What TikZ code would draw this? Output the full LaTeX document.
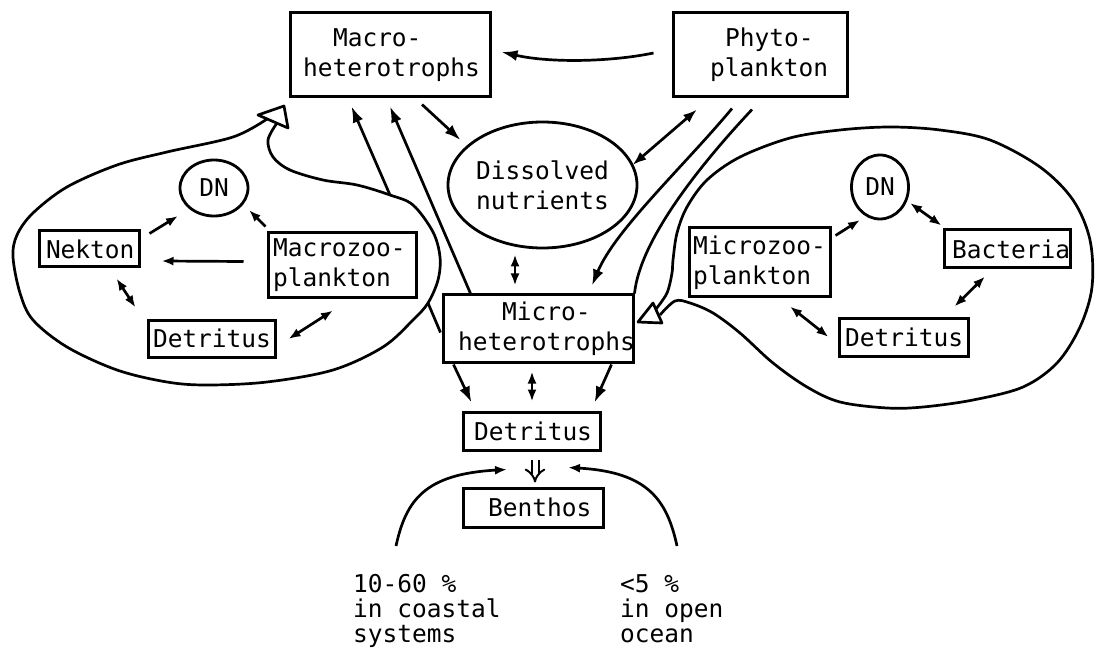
\documentclass[tikz,border=0pt]{standalone}
\usepackage{fontspec}
\setmonofont{DejaVu Sans Mono}
\usetikzlibrary{arrows.meta,calc,shapes.geometric}
\begin{document}
\begin{tikzpicture}[x=1pt,y=-1pt,
  lbl/.style={font={\ttfamily\fontsize{24.5}{30}\selectfont\hyphenpenalty10000\exhyphenpenalty10000}},
  lblb/.style={font={\ttfamily\fontsize{24.5}{25}\selectfont}},
  box/.style={draw, line width=3pt, rectangle, inner xsep=4pt, inner ysep=0pt, align=left, lbl},
  oval/.style={draw, line width=2.8pt, ellipse, inner sep=0pt, align=center, lbl},
  con/.style={line width=2.7pt},
  arr/.style={con, -{Latex[length=16pt,width=11pt]}},
  sarr/.style={con, -{Latex[length=12pt,width=9pt]}},
  darr/.style={con, {Latex[length=14pt,width=10pt]}-{Latex[length=14pt,width=10pt]}},
  dsarr/.style={con, {Latex[length=12pt,width=9pt]}-{Latex[length=12pt,width=9pt]}},
  loopline/.style={line width=2.7pt, line join=round},
  dblarr/.style={double, double distance=5pt, line width=2pt, -{Implies[length=10pt]}},
]
\fill[white] (0,0) rectangle (1100,660);
\useasboundingbox (0,0) rectangle (1100,660);

% main boxes
\node[box, minimum width=200pt, minimum height=84pt, text width=192pt] (macro) at (390,55) {\hspace*{39pt}Macro-\\\hspace*{9pt}heterotrophs};
\node[box, minimum width=174pt, minimum height=84pt, text width=166pt] (phyto) at (760,55) {\hspace*{48pt}Phyto-\\\hspace*{33pt}plankton};
\node[oval, minimum width=189pt, minimum height=126pt] (dissolved) at (542.5,185) {Dissolved\\nutrients};
\node[box, minimum width=190pt, minimum height=67pt, text width=182pt] (micro) at (538,328.5) {\hspace*{55pt}Micro-\\\hspace*{11pt}heterotrophs};
\node[box, minimum width=137pt, minimum height=38pt, text width=129pt] (detC) at (531.5,431) {\hspace*{7pt}Detritus};
\node[box, minimum width=140pt, minimum height=39pt, text width=132pt] (benthos) at (533,507.5) {\hspace*{21pt}Benthos};

% left loop nodes
\node[oval, minimum width=68pt, minimum height=56pt] (dnL) at (214,188) {DN};
\node[box, minimum width=100pt, minimum height=36pt, text width=92pt] (nekton) at (89,249) {\hspace*{3pt}Nekton};
\node[box, minimum width=148pt, minimum height=65pt, text width=140pt] (macrozoo) at (342,265.5) {\hspace*{1pt}Macrozoo-\\\hspace*{1pt}plankton};
\node[box, minimum width=127pt, minimum height=37pt, text width=119pt] (detL) at (211.5,338.5) {\hspace*{1pt}Detritus};

% right loop nodes
\node[oval, minimum width=57pt, minimum height=64pt] (dnR) at (880,187) {DN};
\node[box, minimum width=141pt, minimum height=69pt, text width=133pt] (microzoo) at (759.5,262.5) {Microzoo-\\plankton};
\node[box, minimum width=126pt, minimum height=38pt, text width=118pt] (bacteria) at (1007,249) {\hspace*{4pt}Bacteria};
\node[box, minimum width=129pt, minimum height=38pt, text width=121pt] (detR) at (903.5,337) {\hspace*{2pt}Detritus};

% bottom texts
\node[lblb, anchor=north west, align=left, inner sep=0pt] (coastal) at (353,574) {10-60 \%\\in coastal\\systems};
\node[lblb, anchor=north west, align=left, inner sep=0pt] (ocean) at (620,574) {<5 \%\\in open\\ocean};

% loop outlines
\coordinate (loopLa) at (390,195);
\coordinate (loopLb) at (428,303);
\draw[loopline] plot[smooth, tension=0.55] coordinates {(277,123) (268,140) (273,157) (290,170) (323,180) (357,185) (390,195) (413,205) (433,232) (440,257) (438,280) (428,303) (413,320) (383,347) (333,370) (267,382) (207,385) (167,382) (117,370) (67,347) (33,320) (20,293) (13,257) (17,235) (33,213) (67,187) (117,165) (167,152) (233,137) (267,119)};
\draw[loopline] (258,115) -- (284,106) -- (288,128) -- cycle;

\draw[loopline] plot[smooth, tension=0.55] coordinates {(656,309) (667,293) (672,273) (673,260) (677,233) (687,207) (707,180) (740,157) (790,138) (840,130) (890,127) (940,130) (990,140) (1040,167) (1073,200) (1090,240) (1092,287) (1080,327) (1057,363) (1023,387) (973,400) (923,407) (887,408) (840,402) (807,387) (773,363) (740,333) (713,313) (690,303) (675,301) (660,315)};
\draw[loopline] (653,303) -- (638,322) -- (662,323) -- cycle;

% central connectors
\draw[arr] ($(phyto.west)+(-18,-2)$) .. controls (610,62) and (550,63) .. ($(macro.east)+(10,-3)$);
\draw[arr] ($(macro.south)+(32,6)$) -- ($(dissolved.center)+(-82,-45)$);
\draw[arr] (loopLa) -- ($(macro.south west)+(63,8)$);
\draw[arr] ($(micro.north west)+(29,0)$) -- ($(macro.south)+(0,8)$);
\draw[con] (loopLb) -- ($(micro.west)+(-1,4)$);
\draw[darr] ($(phyto.south)+(-63,11)$) -- ($(dissolved.center)+(90,-20)$);
\draw[arr] ($(phyto.south)+(-28,10)$) .. controls (685,165) and (615,230) .. ($(micro.north)+(54,-8)$);
\draw[con] ($(phyto.south)+(-8,11)$) .. controls (700,165) and (640,240) .. (micro.north east);
\draw[dsarr] ($(micro.north)+(-23,-8)$) -- ($(dissolved.south)+(-27.5,5)$);
\draw[arr] ($(micro.south west)+(12,1)$) -- ($(detC.north west)+(10,-8)$);
\draw[arr] ($(micro.south east)+(-23,1)$) -- ($(detC.north east)+(-7,-8)$);
\draw[dsarr] ($(micro.south)+(-6,8)$) -- ($(detC.north)+(0.5,-9)$);
\draw[dblarr] ($(detC.south)+(3.5,8)$) -- ($(benthos.north)+(2,-4)$);

% bottom curved arrows
\coordinate (cL) at (396,546);
\coordinate (cR) at (677,546);
\draw[sarr] (cL) .. controls (406,500) and (425,474) .. ($(benthos.north)+(-26,-17)$);
\draw[sarr] (cR) .. controls (667,500) and (648,472) .. ($(benthos.north)+(35,-19)$);

% left loop connectors
\draw[sarr] ($(nekton.north east)+(9,4)$) -- ($(dnL.center)+(-36,28)$);
\draw[sarr] ($(macrozoo.north west)+(-1,-5)$) -- ($(dnL.center)+(35,22)$);
\draw[sarr] ($(macrozoo.west)+(-23,-4)$) -- ($(nekton.east)+(21,12)$);
\draw[dsarr] ($(nekton.south east)+(-24,10)$) -- ($(detL.north west)+(-11,-11)$);
\draw[dsarr] ($(macrozoo.south)+(-9,11)$) -- ($(detL.east)+(12,0.5)$);

% right loop connectors
\draw[sarr] ($(microzoo.north east)+(4,9)$) -- ($(dnR.center)+(-20,33)$);
\draw[dsarr] ($(dnR.center)+(30,16)$) -- ($(bacteria.north west)+(-1,-3)$);
\draw[dsarr] ($(bacteria.south)+(-22,7)$) -- ($(detR.north east)+(-15,-10)$);
\draw[dsarr] ($(microzoo.south)+(30.5,8)$) -- ($(detR.west)+(-9,0)$);
\end{tikzpicture}
\end{document}
